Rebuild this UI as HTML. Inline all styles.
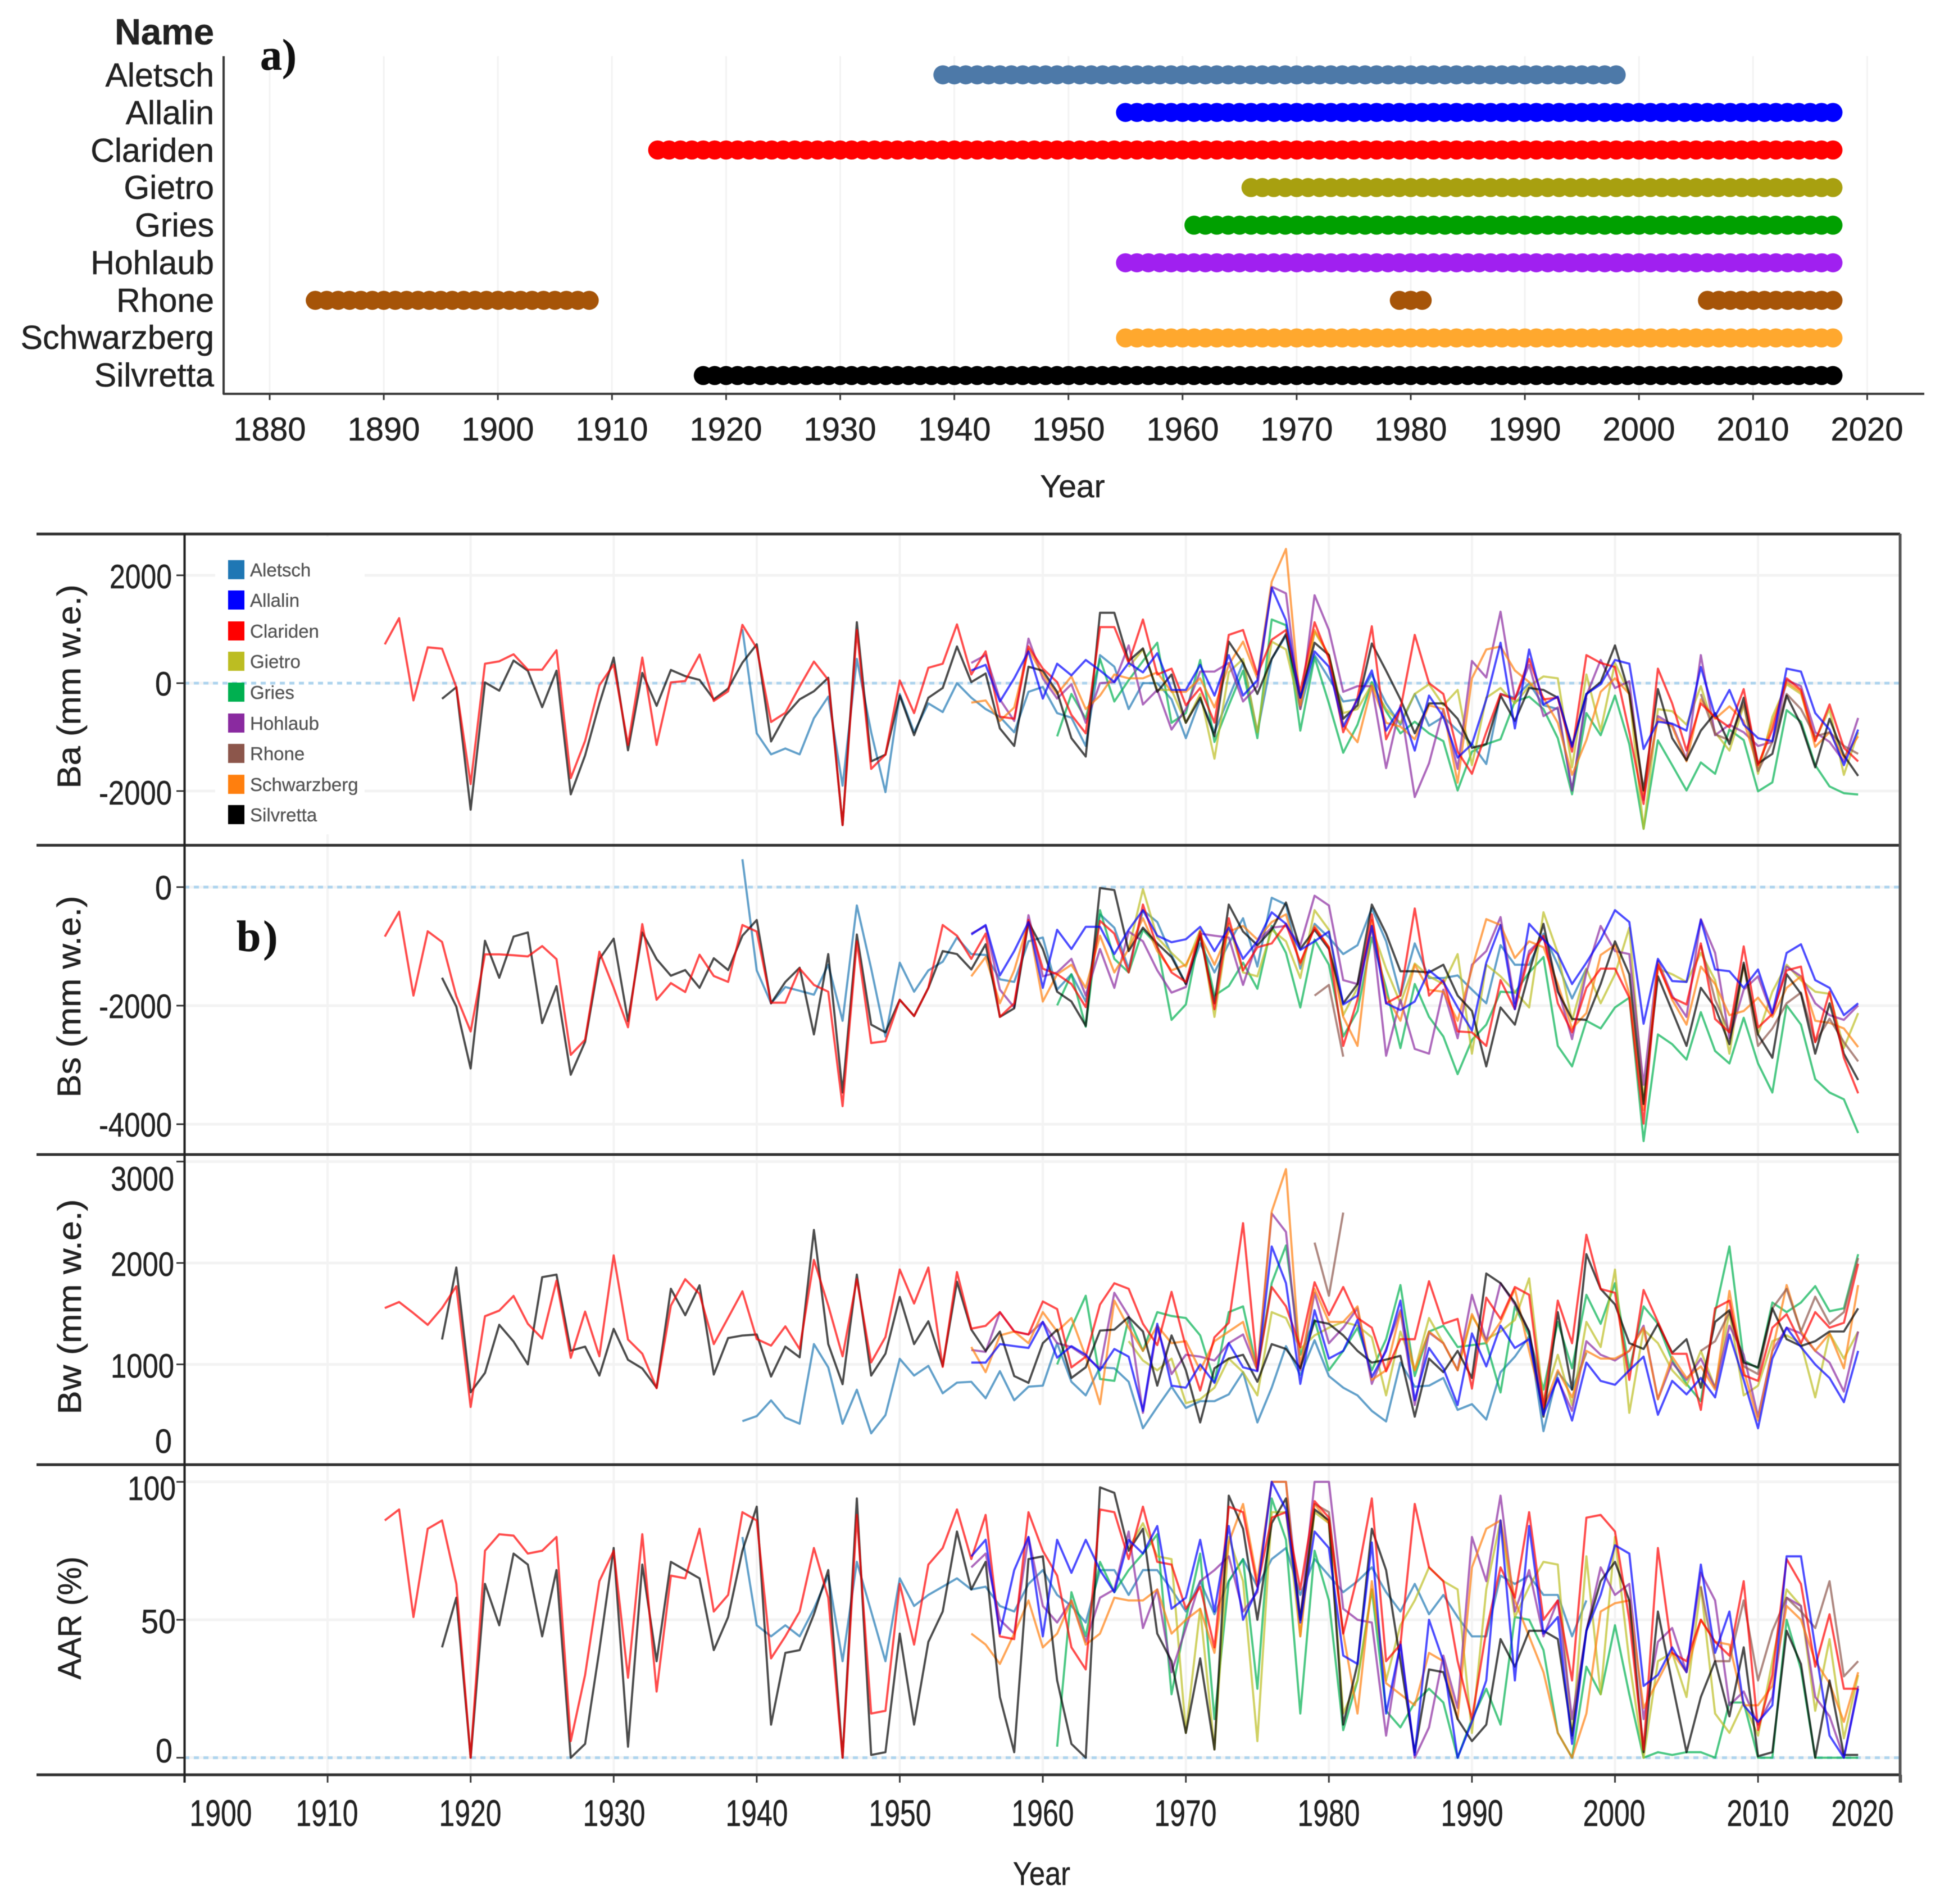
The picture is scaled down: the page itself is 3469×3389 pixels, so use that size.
<!DOCTYPE html>
<html lang="en">
<head>
<meta charset="utf-8">
<title>Glacier mass balance records</title>
<style>
html,body{margin:0;padding:0;background:#fff;}
svg{display:block;filter:blur(0.7px);}
text{font-family:"Liberation Sans",sans-serif;fill:#222;stroke:#222;stroke-width:0.5px;}
.serif{font-family:"Liberation Serif",serif;font-weight:bold;fill:#111;stroke:#111;}
.leg{font-size:33px;fill:#555;stroke:#555;stroke-width:0.3px;}
</style>
</head>
<body>
<svg id="chart" xmlns="http://www.w3.org/2000/svg" width="3469" height="3389" viewBox="0 0 3469 3389">
<rect width="3469" height="3389" fill="#fff"/>
<g id="grid"></g>
<g id="legend-bg"><rect x="383" y="955" width="266" height="530" fill="#fff"/></g>
<g id="zero"></g>
<g id="dots"></g>
<g id="lines"></g>
<g id="axes"></g>

<text x="381" y="79" font-size="65" font-weight="bold" text-anchor="end">Name</text>
<text class="serif" x="463" y="124" font-size="78">a)</text>
<g font-size="59" text-anchor="end">
<text x="381" y="154">Aletsch</text>
<text x="381" y="221">Allalin</text>
<text x="381" y="288">Clariden</text>
<text x="381" y="354">Gietro</text>
<text x="381" y="421">Gries</text>
<text x="381" y="488">Hohlaub</text>
<text x="381" y="555">Rhone</text>
<text x="381" y="621">Schwarzberg</text>
<text x="381" y="688">Silvretta</text>
</g>
<g font-size="58" text-anchor="middle">
<text x="480" y="784">1880</text>
<text x="683" y="784">1890</text>
<text x="886" y="784">1900</text>
<text x="1089" y="784">1910</text>
<text x="1292" y="784">1920</text>
<text x="1495" y="784">1930</text>
<text x="1699" y="784">1940</text>
<text x="1902" y="784">1950</text>
<text x="2105" y="784">1960</text>
<text x="2308" y="784">1970</text>
<text x="2511" y="784">1980</text>
<text x="2714" y="784">1990</text>
<text x="2917" y="784">2000</text>
<text x="3120" y="784">2010</text>
<text x="3323" y="784">2020</text>
</g>
<text x="1909" y="885" font-size="57" text-anchor="middle">Year</text>

<text class="serif" x="421" y="1693" font-size="78" letter-spacing="4">b)</text>

<g>
<rect x="406" y="997" width="29" height="34" fill="#1f77b4"/>
<text class="leg" x="445" y="1026">Aletsch</text>
<rect x="406" y="1051" width="29" height="34" fill="#0000ff"/>
<text class="leg" x="445" y="1080">Allalin</text>
<rect x="406" y="1106" width="29" height="34" fill="#ff0000"/>
<text class="leg" x="445" y="1135">Clariden</text>
<rect x="406" y="1160" width="29" height="34" fill="#bcbd22"/>
<text class="leg" x="445" y="1189">Gietro</text>
<rect x="406" y="1215" width="29" height="34" fill="#00b050"/>
<text class="leg" x="445" y="1244">Gries</text>
<rect x="406" y="1270" width="29" height="34" fill="#8a2aa0"/>
<text class="leg" x="445" y="1299">Hohlaub</text>
<rect x="406" y="1324" width="29" height="34" fill="#8c564b"/>
<text class="leg" x="445" y="1353">Rhone</text>
<rect x="406" y="1379" width="29" height="34" fill="#ff7f0e"/>
<text class="leg" x="445" y="1408">Schwarzberg</text>
<rect x="406" y="1433" width="29" height="34" fill="#000"/>
<text class="leg" x="445" y="1462">Silvretta</text>
</g>

<g font-size="60" text-anchor="end">
<text x="306" y="1047" textLength="111" lengthAdjust="spacingAndGlyphs">2000</text>
<text x="306" y="1238" textLength="30" lengthAdjust="spacingAndGlyphs">0</text>
<text x="306" y="1432" textLength="130" lengthAdjust="spacingAndGlyphs">-2000</text>
<text x="306" y="1601" textLength="30" lengthAdjust="spacingAndGlyphs">0</text>
<text x="306" y="1812" textLength="130" lengthAdjust="spacingAndGlyphs">-2000</text>
<text x="306" y="2023" textLength="130" lengthAdjust="spacingAndGlyphs">-4000</text>
<text x="310" y="2119" textLength="113" lengthAdjust="spacingAndGlyphs">3000</text>
<text x="310" y="2271" textLength="113" lengthAdjust="spacingAndGlyphs">2000</text>
<text x="310" y="2452" textLength="113" lengthAdjust="spacingAndGlyphs">1000</text>
<text x="306" y="2586" textLength="30" lengthAdjust="spacingAndGlyphs">0</text>
<text x="313" y="2670" textLength="86" lengthAdjust="spacingAndGlyphs">100</text>
<text x="313" y="2907" textLength="62" lengthAdjust="spacingAndGlyphs">50</text>
<text x="307" y="3137" textLength="30" lengthAdjust="spacingAndGlyphs">0</text>
</g>

<g font-size="58" text-anchor="middle">
<text transform="translate(143,1222) rotate(-90)" textLength="363" lengthAdjust="spacingAndGlyphs">Ba (mm w.e.)</text>
<text transform="translate(143,1774) rotate(-90)" textLength="359" lengthAdjust="spacingAndGlyphs">Bs (mm w.e.)</text>
<text transform="translate(144,2326) rotate(-90)" textLength="383" lengthAdjust="spacingAndGlyphs">Bw (mm w.e.)</text>
<text transform="translate(144,2880) rotate(-90)" textLength="219" lengthAdjust="spacingAndGlyphs">AAR (%)</text>
</g>

<g font-size="66" text-anchor="middle">
<text x="393" y="3250" textLength="111" lengthAdjust="spacingAndGlyphs">1900</text>
<text x="582" y="3250" textLength="111" lengthAdjust="spacingAndGlyphs">1910</text>
<text x="837" y="3250" textLength="111" lengthAdjust="spacingAndGlyphs">1920</text>
<text x="1093" y="3250" textLength="111" lengthAdjust="spacingAndGlyphs">1930</text>
<text x="1347" y="3250" textLength="111" lengthAdjust="spacingAndGlyphs">1940</text>
<text x="1602" y="3250" textLength="111" lengthAdjust="spacingAndGlyphs">1950</text>
<text x="1856" y="3250" textLength="111" lengthAdjust="spacingAndGlyphs">1960</text>
<text x="2110" y="3250" textLength="111" lengthAdjust="spacingAndGlyphs">1970</text>
<text x="2365" y="3250" textLength="111" lengthAdjust="spacingAndGlyphs">1980</text>
<text x="2620" y="3250" textLength="111" lengthAdjust="spacingAndGlyphs">1990</text>
<text x="2873" y="3250" textLength="111" lengthAdjust="spacingAndGlyphs">2000</text>
<text x="3129" y="3250" textLength="111" lengthAdjust="spacingAndGlyphs">2010</text>
<text x="3315" y="3250" textLength="111" lengthAdjust="spacingAndGlyphs">2020</text>
</g>
<text x="1854" y="3355" font-size="58" text-anchor="middle" textLength="102" lengthAdjust="spacingAndGlyphs">Year</text>
</svg>

<script>
/* Record coverage (panel a): first and last year of each continuous run */
const coverageNames=['Aletsch','Allalin','Clariden','Gietro','Gries','Hohlaub','Rhone','Rhone','Rhone','Schwarzberg','Silvretta'];
const coverageRows=[0,1,2,3,4,5,6,6,6,7,8];
const coverageFirst=[1939,1955,1914,1966,1961,1955,1884,1979,2006,1955,1918];
const coverageLast=[1998,2017,2017,2017,2017,2017,1908,1981,2017,2017,2017];
const coverageColors=['#4d79a8','#0000ff','#ff0000','#a8a010','#00a000','#a020f0','#a65408','#a65408','#a65408','#ffa82e','#000000'];
const coverageTicks=[1880,1890,1900,1910,1920,1930,1940,1950,1960,1970,1980,1990,2000,2010,2020];

/* Panel b tick values */
const decadeTicks=[1900,1910,1920,1930,1940,1950,1960,1970,1980,1990,2000,2010,2020];
const baTicks=[2000,0,-2000];
const bsTicks=[0,-2000,-4000];
const bwTicks=[3000,2000,1000];
const aarTicks=[100,50,0];

/* First year of every series */
const firstAletsch=1939,firstAllalin=1955,firstClariden=1914,firstGietro=1966,firstGries=1961,firstHohlaub=1955,firstRhoneEarly=1979,firstRhoneLate=2006,firstSchwarzberg=1955,firstSilvretta=1918;

/* ---------- Ba (mm w.e.) ---------- */
const baClariden=[720,1205,-320,665,640,-75,
-1870,360,405,535,250,250,610,-1760,-1070,-40,
345,-1145,475,-1145,15,40,530,-330,-150,1080,
650,-720,-550,-60,400,60,-2630,985,-1590,-1325,
50,-555,285,360,1090,160,590,-620,-660,680,
270,20,-590,-930,1040,1040,375,1180,160,270,
-410,-90,-730,895,985,160,805,985,-160,1130,
450,-910,-270,1055,-1040,-480,895,0,-200,-1270,
-1680,-910,-200,-300,450,-300,-270,-1270,520,375,
300,-910,-2240,270,-375,-1250,-375,-630,-820,-110,
-1520,-860,90,-125,-1075,-395,-1200,-1450];
const baSilvretta=[-290,-75,
-2345,15,-140,420,230,-445,230,-2060,-1340,-380,
475,-1245,190,-420,245,130,60,-300,-100,380,
720,-1080,-600,-300,-150,100,-2630,1130,-1450,-1325,
-230,-965,-270,-90,680,20,180,-840,-1165,305,
230,-160,-1020,-1360,1305,1305,410,645,-160,160,
-735,-270,-985,770,375,-200,450,910,-270,750,
520,-660,-410,735,230,-300,-930,-375,-375,-660,
-1200,-1130,-230,-700,-90,-125,-270,-1160,-200,20,
700,-200,-1990,-110,-1020,-1430,-880,-555,-1130,-270,
-1490,-1310,-230,-770,-1560,-660,-1340,-1720];
const baAletsch=[1000,
-930,-1320,-1210,-1320,-650,-250,-1900,450,-910,-2020,
-200,-910,-375,-535,0,-270,-480,-625,-910,-160,
-70,-555,-640,-1165,520,305,-480,0,0,-300,
-1020,-300,-910,-270,375,-910,450,880,-480,520,
90,-340,-300,160,-375,-770,-200,-790,-625,-880,
-1130,-1500,-200,-270,0,-410,-480,-1990,-270];
const baAllalin=[235,340,-340,90,590,
-285,360,145,430,235,20,375,200,555,-125,
-125,340,-230,520,-230,55,1770,1165,-270,590,
305,-805,-300,235,-880,-450,-1250,-230,-625,-1380,
-1130,-300,750,-840,625,-395,-250,-1180,-200,-20,
430,360,-1220,-715,-750,-880,300,-610,-125,-770,
-1020,-1075,270,215,-555,-860,-1520,-860];
const baGietro=[300,625,-125,-125,
-735,-200,-1400,200,450,-910,770,625,-480,950,
520,-555,-480,-20,-480,-735,-200,-20,-410,-125,
-1520,-270,-90,-375,-55,125,90,-1560,160,-880,
375,-200,-2700,-480,-520,-770,-55,-910,-1250,-410,
-1680,-625,-20,-200,-1055,-480,-1700,-910];
const baGries=[-985,-200,-660,450,-340,55,410,750,-735,
-555,430,-1090,-410,230,-1020,1180,1075,-880,480,
-375,-1290,-770,20,-520,-930,-715,-930,-1075,-1990,
-1270,-1130,-1040,-340,-250,-480,-1020,-2060,-555,-965,
-230,-1130,-2700,-1060,-1520,-1990,-1470,-1680,-860,-1055,
-2005,-1840,-500,-715,-1520,-1915,-2040,-2065];
const baHohlaub=[375,520,-300,-700,825,
90,-285,-20,-735,0,20,700,-395,-125,-860,
-480,215,215,375,-340,-55,1790,1665,-480,1630,
985,-160,-55,-55,-1575,-410,-2110,-1485,-480,-1590,
410,105,1325,-300,340,-610,-450,-1990,-230,430,
-90,35,-2165,-610,-770,-1415,520,-965,-770,-910,
-1165,-1090,55,-55,-910,-1090,-1450,-645];
const baRhoneLate=[-200,-950,-1055,-375,-1630,-1090,-200,-480,-985,-910,-1165,-1310];
const baSchwarzberg=[-360,-320,-700,-450,625,
160,-200,125,-480,-230,160,90,90,200,-160,
-160,90,-450,340,770,90,1880,2490,-410,985,
520,-770,-1095,-55,-735,-805,-1040,-410,-480,-1845,
90,625,680,235,20,-270,-735,-1700,-1055,-160,
90,-200,-2060,-660,-805,-1450,-300,-660,-430,-700,
-1560,-735,20,-160,-1180,-910,-1380,-985];

/* ---------- Bs (mm w.e.) ---------- */
const bsClariden=[-835,-415,-1830,-745,-925,-1840,
-2435,-1135,-1135,-1150,-1170,-995,-1215,-2830,-2575,-1090,
-1700,-2365,-625,-1900,-1620,-1770,-1140,-1500,-1600,-640,
-750,-1950,-1950,-1375,-1650,-1765,-3695,-915,-2630,-2600,
-1900,-2175,-1700,-640,-820,-1210,-785,-2190,-1960,-555,
-1375,-1470,-1635,-2025,-570,-785,-1440,-295,-1015,-1440,
-1600,-750,-2060,-525,-1405,-1015,-950,-620,-1275,-685,
-1015,-2680,-1900,-460,-1960,-1830,-360,-1830,-1570,-2435,
-2450,-2680,-1570,-2060,-1145,-820,-1960,-2450,-1700,-1375,
-1375,-1865,-3990,-1310,-1865,-1980,-950,-2225,-2450,-1000,
-2370,-2140,-1405,-1340,-2615,-1765,-2880,-3480];
const bsSilvretta=[-1530,-2015,
-3060,-905,-1530,-835,-765,-2295,-1670,-3165,-2610,-1215,
-870,-2260,-765,-1215,-1495,-1400,-1700,-1200,-1400,-820,
-555,-1960,-1600,-1360,-2485,-1130,-3465,-800,-2320,-2450,
-1900,-2175,-1700,-1080,-1130,-1390,-965,-2190,-2045,-590,
-1045,-1765,-1930,-2340,-15,-50,-1080,-685,-950,-1180,
-1635,-820,-1960,-295,-750,-980,-720,-260,-1045,-720,
-1045,-1960,-1635,-295,-785,-1420,-1420,-1440,-1310,-1830,
-2090,-3025,-2030,-2320,-1440,-620,-1765,-2225,-2240,-1635,
-915,-1470,-3660,-1505,-2090,-2680,-1700,-2030,-2650,-1275,
-2485,-2880,-1470,-1800,-2810,-1960,-2810,-3255];
const bsAletsch=[470,
-1405,-1960,-1685,-1750,-1815,-1310,-2255,-310,-1375,-2520,
-1275,-1765,-1405,-1260,-850,-1130,-1145,-1555,-1600,-915,
-850,-1730,-1470,-1930,-460,-685,-1375,-390,-590,-1145,
-1635,-950,-1440,-950,-525,-1340,-180,-295,-1375,-620,
-850,-1130,-980,-360,-915,-1830,-950,-1535,-1535,-1490,
-1730,-1960,-980,-1310,-1310,-785,-1310,-1880,-1375];
const bsAllalin=[-800,-640,-1490,-1080,-590,
-1700,-720,-1045,-670,-670,-1130,-720,-390,-820,-930,
-880,-670,-1080,-685,-1210,-915,-425,-620,-1060,-915,
-750,-1980,-1830,-655,-1960,-2075,-1930,-1405,-1600,-2030,
-2420,-1275,-640,-2060,-620,-885,-1130,-1635,-1275,-885,
-390,-590,-2305,-1210,-1585,-1600,-555,-1390,-1420,-1700,
-1390,-2125,-1110,-965,-1570,-1700,-2160,-1960];
const bsGietro=[-1045,-35,-850,-1110,
-1340,-720,-2190,-620,-1440,-1505,-720,-915,-1535,-390,
-720,-2160,-1700,-685,-1375,-1960,-1290,-1505,-1635,-1130,
-2810,-1310,-1505,-1765,-2030,-425,-1110,-2255,-1375,-1960,
-1470,-685,-3600,-1375,-1470,-1600,-1110,-1570,-2810,-1310,
-2485,-1765,-1310,-1570,-1765,-1800,-2715,-2125];
const bsGries=[-1995,-1470,-2355,-390,-1210,-1440,-720,-980,-2240,
-1980,-750,-1830,-1670,-1275,-1715,-655,-1110,-2030,-885,
-1310,-2520,-2090,-850,-1700,-2715,-1635,-2190,-2520,-3155,
-2580,-2320,-1765,-1780,-1440,-1180,-2680,-3025,-2255,-2385,
-2030,-1865,-4285,-2485,-2650,-2910,-2110,-2765,-2975,-2205,
-2975,-3465,-1995,-2320,-3240,-3465,-3580,-4150];
const bsHohlaub=[-785,-655,-1730,-2030,-475,
-1505,-1440,-1210,-1830,-1045,-1700,-750,-915,-1405,-1780,
-1685,-785,-820,-850,-1650,-915,-685,-655,-980,-145,
-310,-1570,-1635,-655,-2845,-1900,-2730,-2810,-1730,-2550,
-1310,-1080,-505,-1960,-1080,-850,-1700,-2565,-1440,-655,
-1080,-1130,-3335,-1245,-1830,-2190,-540,-1110,-2550,-1730,
-1505,-2160,-1340,-1505,-1960,-2160,-2240,-1995];
const bsRhoneEarly=[-1830,-1650,-2860];
const bsRhoneLate=[-980,-1900,-2450,-1310,-2680,-2385,-1960,-1780,-2615,-2220,-2615,-2940];
const bsSchwarzberg=[-1505,-1180,-1960,-1405,-590,
-1930,-1470,-1310,-1700,-820,-1440,-1045,-525,-1080,-1405,
-1310,-820,-1310,-750,-655,-885,-590,-460,-1310,-655,
-1015,-2190,-2680,-555,-1830,-2255,-1310,-1735,-1765,-2255,
-1375,-540,-640,-1195,-915,-1015,-1635,-2385,-2125,-1145,
-980,-1800,-3760,-1275,-1900,-2320,-1340,-1635,-2160,-2090,
-1865,-2190,-1700,-1505,-2255,-2290,-2385,-2700];

/* ---------- Bw (mm w.e.) ---------- */
const bwClariden=[1555,1615,1505,1390,1555,1770,
580,1475,1530,1675,1400,1255,1825,1065,1520,1080,
2075,1245,1105,765,1580,1840,1695,1200,1460,1720,
1250,1185,1375,1150,2030,1580,1080,1840,1020,1270,
1935,1600,1955,975,1910,1352,1380,1515,1325,1295,
1620,1545,970,1075,1590,1800,1745,1400,1190,1715,
1170,742,1267,1410,2392,942,1763,1572,1170,1810,
1486,1763,1457,1362,932,1248,1248,1820,1400,1448,
761,1658,1448,1763,1686,580,1629,1209,2278,1744,
1705,847,1734,1419,1104,1104,551,1553,1629,894,
837,1362,1495,1209,1515,1362,1410,1992];
const bwSilvretta=[1245,1955,
725,915,1390,1225,1000,1860,1885,1135,1175,890,
1350,1045,960,770,1745,1485,1780,900,1260,1285,
1295,880,1175,1070,2325,1200,805,1885,890,1105,
1665,1200,1425,985,1815,1343,1133,1324,885,818,
1209,1343,866,971,1333,1343,1467,1324,790,1286,
942,427,961,1057,1095,828,1200,1152,961,1429,
1400,1286,1133,1018,1047,1085,484,1057,923,1133,
866,1896,1801,1610,1324,484,1515,751,2087,1744,
1591,1209,1152,1400,1114,1248,770,1419,1534,1018,
971,1553,1248,1181,1229,1324,1324,1553];
const bwAletsch=[440,
490,645,475,415,1200,970,415,750,320,500,
1055,890,985,715,820,828,666,933,646,780,
790,1209,828,694,971,961,828,370,580,780,
570,637,637,704,923,427,770,1180,894,1238,
885,770,694,541,437,1018,780,790,866,551,
608,456,923,1076,1276,341,923,751,1114];
const bwAllalin=[1018,1018,1200,1180,1162,
1419,1066,1180,1095,942,1152,1076,541,1400,790,
770,999,818,1209,971,933,2163,1801,808,1534,
1057,1133,1438,875,1133,1629,646,1162,961,599,
1305,980,1381,1162,1248,503,866,446,1018,837,
799,942,1076,503,837,704,866,675,1295,847,
370,1057,1362,1171,999,866,627,1133];
const bwGietro=[1228,1038,942,1057,
618,656,770,1057,923,694,1515,1457,1152,1286,
1362,1419,1381,1267,694,1324,942,1457,1209,942,
1477,1248,1324,1438,1848,637,1095,599,1419,1171,
1934,522,1343,1209,942,790,1133,770,1515,694,
790,1228,1286,1209,675,1305,1057,1324];
const bwGries=[999,1362,1677,856,837,1457,1133,1515,1477,
1457,1286,828,1515,1572,942,1801,2173,1095,1438,
942,1133,1362,942,1248,1782,885,1324,1381,1171,
1190,1209,723,1572,1286,751,1419,961,1686,1400,
1801,942,1572,1400,1038,808,637,1515,2163,1038,
961,1610,1515,1610,1772,1524,1553,2087];
const bwHohlaub=[1142,1123,1515,1324,1295,
1419,1209,1171,1076,961,1705,1477,522,1362,904,
1095,1076,1038,1209,1295,942,2488,2306,942,1705,
1209,1362,1553,808,1152,1534,599,1314,1209,942,
1686,1228,1801,1591,1324,599,847,541,1228,1095,
1038,1133,1381,656,1018,847,1057,770,1381,1095,
484,1133,1362,1305,1133,1018,732,1324];
const bwRhoneEarly=[2201,1677,2497];
const bwRhoneLate=[1133,1228,1515,980,904,1553,1744,1324,1667,1400,1515,2049];
const bwSchwarzberg=[1171,923,1286,1324,1209,
1515,1324,1457,1076,608,1629,1362,1133,1381,1209,
1228,942,1228,1324,1419,942,2507,2926,980,1744,
1419,1419,1572,847,942,1515,942,1324,1209,942,
1496,1209,1419,1744,1133,561,942,675,1133,1057,
1057,1133,1362,656,1076,866,980,751,1724,942,
446,1133,1782,1324,1133,1305,961,1782];

/* ---------- AAR (%) ---------- */
const aarClariden=[86,90,51,83,86,63,
0,75,81,80.5,74,75,80,6,30,64,
75,29,81,24,66,65,83,53,59,89,
86,36,44,53,76,58,0,88,16,17,
63,41,70,76,90,72,88,44,43,89,
75,66,40,32,90,89,72,91,71,70,
54,62,40,91,89,62,87,89,61,93,
87,45,66,94,35,41,92,69,64,35,
14,46,69,58,89,50,57,28,87,88,
82,50,3,76,38,35,50,42,37,64,
10,30,72,63,33,52,25,25];
const aarSilvretta=[40,58,
0,63,48,74,70,44,68,0,5,39,
76,4,70,35,71,68,65,39,51,75,
91,12,38,39,52,68,0,94,1,2,
45,12,42,53,82,61,71,22,2,72,
73,28,5,0,98,96,75,83,45,35,
9,36,3,95,83,50,85,94,50,90,
86,12,34,83,68,35,2,32,31,14,
6,12,43,33,46,46,43,8,46,64,
71,57,2,53,27,2,22,35,15,40,
0.5,2,46,34,0,28,1,1];
const aarAletsch=[80,
48,44,48,44,54,66,35,71,53,35,
65,55,59,62,65,61,62,55,53,63,
68,59,55,49,68,68,59,68,68,61,
53,64,52,64,72,62,72,76,59,72,
66,60,64,69,60,53,63,52,59,51,
44,44,66,63,66,59,59,44,57];
const aarAllalin=[73,79,45,68,80,
44,79,67,79,68,60,79,74,84,54,
58,79,53,84,50,61,100,90,49,82,
76,37,34,78,16,41,1,50,35,0,
13,28,86,28,84,45,51,5,46,59,
77,74,26,30,40,31,70,38,53,19,
13,19,73,73,40,8,0,25];
const aarGietro=[76,85,73,72,
9,54,3,80,64,6,89,89,44,89,
85,16,28,61,28,48,57,69,64,61,
9,61,86,51,62,71,70,7,73,23,
80,35,0,35,38,22,62,16,9,20,
8,35,61,55,17,43,7,30];
const aarGries=[4,60,44,71,60,68,74,81,23,
50,74,14,64,72,25,94,79,16,75,
57,10,28,61,17,11,20,25,20,0,
14,25,12,51,50,39,9,0,33,23,
48,23,0,2,1,2,2,0,20,20,
0,0,50,32,0,0,0,0];
const aarHohlaub=[69,74,50,45,80,
55,49,57,42,58,61,82,47,61,31,
47,64,68,73,53,60,100,100,50,100,
100,54,50,49,8,42,0,11,37,18,
80,64,95,53,68,44,57,14,46,69,
59,63,14,42,47,31,67,57,19,24,
12,22,58,55,22,15,0,26];
const aarRhoneEarly=[92,89,45];
const aarRhoneLate=[62,35,35,57,28,46,58,53,47,64,29.5,35];
const aarSchwarzberg=[45,41,34,45,57,
40,45,57,41,45,58,57,57,61,45,
50,54,38,78,92,64,100,100,44,92,
85,45,16,64,27,23,19,38,35,14,
69,83,86,57,44,31,9,0,16,53,
56,57,18,28,38,31,50,42,41,19,
19,26,55,50,35,27,13,31];

/* Axis functions */
const xA=function(year){return 480+20.31*(year-1880);};
const xB=function(year){return 328.5+25.46*(year-1900);};
const rowY=function(row){return 133.2+66.9*row;};
const yBa=function(v){return 1216-0.096*v;};
const yBs=function(v){return 1579-0.1055*v;};
const yBw=function(v){return 2609-0.1805*v;};
const yAar=function(v){return 3128.6-4.91*v;};

const NS='http://www.w3.org/2000/svg';
function shape(parent,tag){const el=document.createElementNS(NS,tag);parent.appendChild(el);return el;}
function lineEl(parent,x1,y1,x2,y2,color,width){
  const el=shape(parent,'line');
  el.setAttribute('x1',x1);el.setAttribute('y1',y1);el.setAttribute('x2',x2);el.setAttribute('y2',y2);
  el.setAttribute('stroke',color);el.setAttribute('stroke-width',width);
  return el;
}
const gGrid=document.getElementById('grid');
const gZero=document.getElementById('zero');
const gDots=document.getElementById('dots');
const gLines=document.getElementById('lines');
const gAxes=document.getElementById('axes');
const GRID='#f3f3f3',AX='#3a3a3a';

/* Panel a */
coverageTicks.forEach(function(t){
  const g=lineEl(gGrid,xA(t),100,xA(t),701,GRID,3);
  
  
  const k=lineEl(gAxes,xA(t),701,xA(t),712,AX,3);
  
  
});
const panelAY=lineEl(gAxes,398,100,398,702,AX,4);


const panelAX=lineEl(gAxes,397,701,3425,701,AX,4);



coverageFirst.forEach(function(first,i){
  for(let year=first;year<=coverageLast[i];year++){
    const c=shape(gDots,'circle');
    c.setAttribute('cx',xA(year));
    c.setAttribute('cy',rowY(coverageRows[i]));
    c.setAttribute('r',17);
    c.setAttribute('fill',coverageColors[i]);
    
    
  }
});

/* Panel b frame */
const frameTop=950,frameBottom=3159,frameLeft=65,frameRight=3382;
decadeTicks.forEach(function(t){
  if(t!==1900&&t!==2020){
    const g=lineEl(gGrid,xB(t),frameTop,xB(t),frameBottom,GRID,4);
    
    
  }
  const k=lineEl(gAxes,xB(t),frameBottom,xB(t),3173,AX,3);
  
  
});
function yTicks(ticks,scale,label){
  ticks.forEach(function(t){
    const g=lineEl(gGrid,328,scale(t),frameRight,scale(t),GRID,5);
    
    
    const k=lineEl(gAxes,314,scale(t),328,scale(t),AX,3);
    
    
  });
}
yTicks(baTicks,yBa,'ba');
yTicks(bsTicks,yBs,'bs');
yTicks(bwTicks,yBw,'bw');
yTicks(aarTicks,yAar,'aar');

[[yBa,'ba'],[yBs,'bs'],[yAar,'aar']].forEach(function(p){
  const z=lineEl(gZero,328,p[0](0),frameRight,p[0](0),'#aed4ee',5);
  z.setAttribute('stroke-dasharray','9 8');
  
  
});

[950.5,1504.5,2055,2607,3159].forEach(function(y,i){
  const b=lineEl(gAxes,frameLeft,y,frameRight,y,'#333',5);
  
  
});
const yAxisB=lineEl(gAxes,328.5,frameTop,328.5,3173,'#222',4);


const rightB=lineEl(gAxes,frameRight,frameTop,frameRight,3173,'#555',5);



/* Series styling and draw order */
const colors={Aletsch:'#1f77b4',Allalin:'#0000ff',Clariden:'#ff0000',Gietro:'#bcbd22',Gries:'#00b050',Hohlaub:'#8a2aa0',Rhone:'#8c564b',Schwarzberg:'#ff7f0e',Silvretta:'#000000'};

function drawSeries(panel,name,first,values,scale){
  const parts=values.map(function(v,i){
    return (i?'L':'M')+xB(first+i).toFixed(1)+' '+scale(v).toFixed(1);
  });
  const p=shape(gLines,'path');
  p.setAttribute('d',parts.join(''));
  p.setAttribute('fill','none');
  p.setAttribute('stroke',colors[name]);
  p.setAttribute('stroke-width',3.8);
  p.setAttribute('stroke-opacity',0.7);
  p.setAttribute('stroke-linejoin','round');
  
  
}

drawSeries('ba','Aletsch',firstAletsch,baAletsch,yBa);
drawSeries('ba','Gries',firstGries,baGries,yBa);
drawSeries('ba','Gietro',firstGietro,baGietro,yBa);
drawSeries('ba','Hohlaub',firstHohlaub,baHohlaub,yBa);
drawSeries('ba','Schwarzberg',firstSchwarzberg,baSchwarzberg,yBa);
drawSeries('ba','Rhone',firstRhoneLate,baRhoneLate,yBa);
drawSeries('ba','Silvretta',firstSilvretta,baSilvretta,yBa);
drawSeries('ba','Clariden',firstClariden,baClariden,yBa);
drawSeries('ba','Allalin',firstAllalin,baAllalin,yBa);

drawSeries('bs','Aletsch',firstAletsch,bsAletsch,yBs);
drawSeries('bs','Gries',firstGries,bsGries,yBs);
drawSeries('bs','Gietro',firstGietro,bsGietro,yBs);
drawSeries('bs','Hohlaub',firstHohlaub,bsHohlaub,yBs);
drawSeries('bs','Schwarzberg',firstSchwarzberg,bsSchwarzberg,yBs);
drawSeries('bs','Rhone',firstRhoneEarly,bsRhoneEarly,yBs);
drawSeries('bs','Rhone',firstRhoneLate,bsRhoneLate,yBs);
drawSeries('bs','Silvretta',firstSilvretta,bsSilvretta,yBs);
drawSeries('bs','Clariden',firstClariden,bsClariden,yBs);
drawSeries('bs','Allalin',firstAllalin,bsAllalin,yBs);

drawSeries('bw','Aletsch',firstAletsch,bwAletsch,yBw);
drawSeries('bw','Gries',firstGries,bwGries,yBw);
drawSeries('bw','Gietro',firstGietro,bwGietro,yBw);
drawSeries('bw','Hohlaub',firstHohlaub,bwHohlaub,yBw);
drawSeries('bw','Schwarzberg',firstSchwarzberg,bwSchwarzberg,yBw);
drawSeries('bw','Rhone',firstRhoneEarly,bwRhoneEarly,yBw);
drawSeries('bw','Rhone',firstRhoneLate,bwRhoneLate,yBw);
drawSeries('bw','Silvretta',firstSilvretta,bwSilvretta,yBw);
drawSeries('bw','Clariden',firstClariden,bwClariden,yBw);
drawSeries('bw','Allalin',firstAllalin,bwAllalin,yBw);

drawSeries('aar','Aletsch',firstAletsch,aarAletsch,yAar);
drawSeries('aar','Gries',firstGries,aarGries,yAar);
drawSeries('aar','Gietro',firstGietro,aarGietro,yAar);
drawSeries('aar','Hohlaub',firstHohlaub,aarHohlaub,yAar);
drawSeries('aar','Schwarzberg',firstSchwarzberg,aarSchwarzberg,yAar);
drawSeries('aar','Rhone',firstRhoneEarly,aarRhoneEarly,yAar);
drawSeries('aar','Rhone',firstRhoneLate,aarRhoneLate,yAar);
drawSeries('aar','Silvretta',firstSilvretta,aarSilvretta,yAar);
drawSeries('aar','Clariden',firstClariden,aarClariden,yAar);
drawSeries('aar','Allalin',firstAllalin,aarAllalin,yAar);
</script>
</body>
</html>
